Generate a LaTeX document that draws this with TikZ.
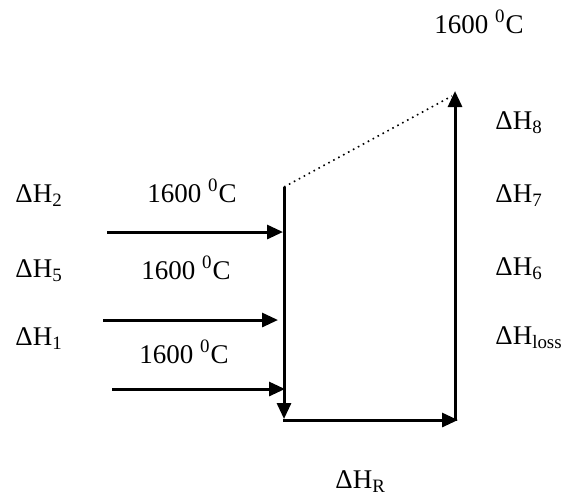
\documentclass[tikz,border=0pt]{standalone}
\usepackage{fontspec}
\setmainfont{Liberation Serif}
\usetikzlibrary{arrows.meta,positioning}

\begin{document}
\begin{tikzpicture}[
  x=0.5pt, y=-0.5pt,
  lbl/.style={anchor=base west, inner sep=0pt, font=\fontsize{13.5}{15}\selectfont},
  temp/.style={anchor=base, inner sep=0pt, font=\fontsize{13.5}{15}\selectfont},
  arr/.style={-{Triangle[length=8pt,width=7pt]}, line width=1.5pt},
  dots/.style={dotted, line width=0.8pt}
]
\useasboundingbox (0,0) rectangle (565,495);

% balance boundary
\coordinate (tl) at (284,187);
\coordinate (bl) at (284,419);
\coordinate (bls) at (283,420);
\coordinate (brt) at (458,420);
\coordinate (br) at (455,421);
\coordinate (tr) at (455,91);

\draw[arr] (tl) -- (bl);
\draw[arr] (bls) -- (brt);
\draw[arr] (br) -- (tr);
\draw[dots] (tl) -- (452,96);

% inflows
\coordinate (in2) at (107,232);
\coordinate (in2e) at (283,232);
\coordinate (in5) at (103,320);
\coordinate (in5e) at (278,320);
\coordinate (in1) at (112,389);
\coordinate (in1e) at (285,389);
\draw[arr] (in2) -- (in2e);
\draw[arr] (in5) -- (in5e);
\draw[arr] (in1) -- (in1e);

% labels
\node[temp] (tout) at (479,33) {1600 \textsuperscript{0}C};
\node[temp] (t2) at (192,202) {1600 \textsuperscript{0}C};
\node[temp] (t5) at (186,279) {1600 \textsuperscript{0}C};
\node[temp] (t1) at (184,363) {1600 \textsuperscript{0}C};

\node[lbl] (dH2) at (15,202) {ΔH\textsubscript{2}};
\node[lbl] (dH5) at (15,277) {ΔH\textsubscript{5}};
\node[lbl] (dH1) at (15,345) {ΔH\textsubscript{1}};

\node[lbl] (dH8) at (495,129) {ΔH\textsubscript{8}};
\node[lbl] (dH7) at (495,202) {ΔH\textsubscript{7}};
\node[lbl] (dH6) at (495,275) {ΔH\textsubscript{6}};
\node[lbl] (dHl) at (495,344) {ΔH\textsubscript{loss}};

\node[lbl] (dHR) at (335,488) {ΔH\textsubscript{R}};
\end{tikzpicture}
\end{document}
